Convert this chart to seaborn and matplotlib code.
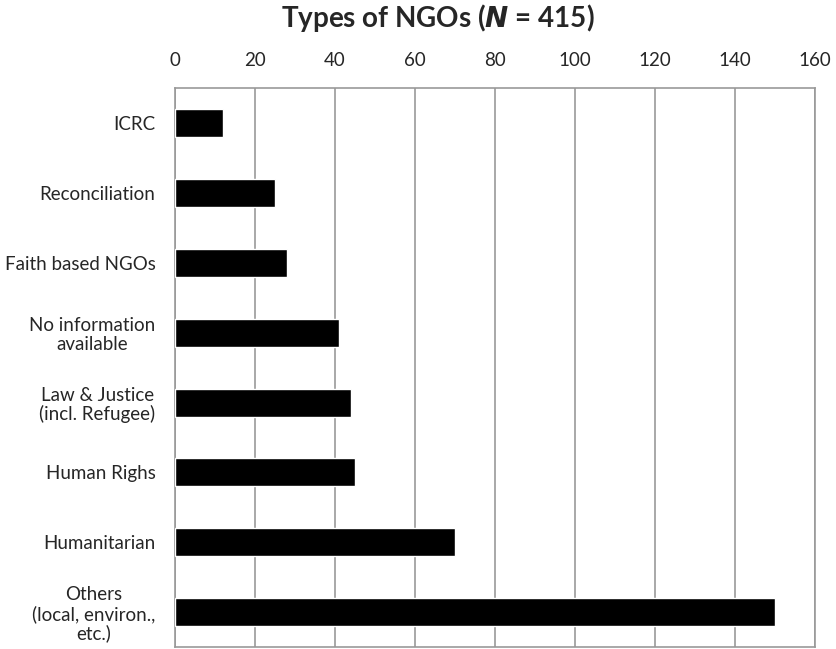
import numpy as np
import pandas as pd
import matplotlib
matplotlib.use('Agg')
import matplotlib.pyplot as plt
import seaborn as sns

categories = ['ICRC', 'Reconciliation', 'Faith based NGOs',
              'No information\navailable', 'Law & Justice\n(incl. Refugee)',
              'Human Righs', 'Humanitarian', 'Others\n(local, environ.,\netc.)']
counts = [12, 25, 28, 41, 44, 45, 70, 150]
xticks = [0, 20, 40, 60, 80, 100, 120, 140, 160]

df = pd.DataFrame({'type': categories, 'count': counts})

sns.set_style('white')
plt.rcParams['font.family'] = ['Lato', 'DejaVu Sans']

fig = plt.figure(figsize=(8.37, 6.49), dpi=100)
ax = fig.add_axes([0.209, 0.003, 0.765, 0.861])

sns.barplot(data=df, y='type', x='count', orient='h', color='black',
            width=0.4, saturation=1, ax=ax, zorder=3)

ax.set_xlim(0, 160)
ax.set_xticks(xticks)
ax.xaxis.tick_top()
ax.tick_params(axis='x', length=0, pad=14, labelsize=13.5)
ax.tick_params(axis='y', length=0, pad=14, labelsize=13.5)
for lab in ax.get_yticklabels():
    lab.set_multialignment('center')
    lab.set_linespacing(1.1)
ax.set_xlabel('')
ax.set_ylabel('')
ax.grid(axis='x', color='#999999', linewidth=1.2, zorder=0)
ax.set_axisbelow(True)
for s in ax.spines.values():
    s.set_color('#999999')
    s.set_linewidth(1.2)

fig.text(0.523, 0.972, 'Types of NGOs ($\\mathbfit{N}$ = 415)', ha='center', va='center',
         fontsize=20, fontweight='bold')

fig.savefig('out.png', dpi=100)
